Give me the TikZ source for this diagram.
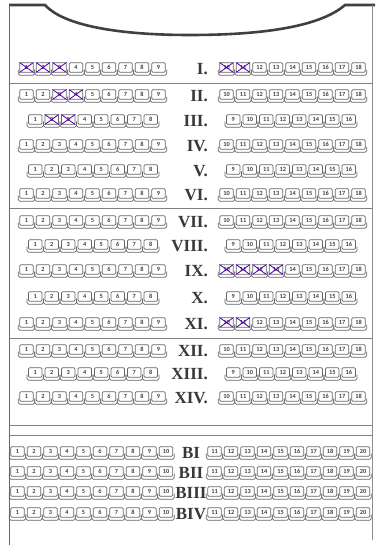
\documentclass[tikz,border=0pt]{standalone}
\usepackage{fontspec}
\setmainfont{Liberation Serif}
\newfontfamily\seatfont{Carlito}

\begin{document}
\begin{tikzpicture}[
    x=1pt, y=1pt,
    seat/.style={
        rectangle,
        rounded corners=1.2pt,
        draw=black!60,
        line width=0.7pt,
        minimum width=13.5pt,
        minimum height=9.5pt,
        inner sep=0pt,
        fill=white,
        text=black!75,
        font=\seatfont\bfseries\fontsize{6.3}{7}\selectfont
    },
    cushion/.style={
        draw=black!60,
        line width=0.7pt,
        rounded corners=1.5pt
    },
    rowlabel/.style={
        inner sep=0pt,
        text=black!78,
        font=\bfseries\fontsize{17}{17}\selectfont
    },
    taken/.style={draw=violet!65!blue, line width=0.8pt},
    stage/.style={draw=black!75, line width=2.6pt},
    frame/.style={draw=black!60, line width=0.8pt}
]
\useasboundingbox (0,0) rectangle (375,-545);

% Stage and outer frame
\draw[stage] (9,-5) -- (45,-5)
    .. controls (62,-24) and (112,-35) .. (190,-35)
    .. controls (270,-35) and (322,-25) .. (345,-5) -- (375,-5);
\draw[frame] (9,-5) -- (9,-545);
\draw[frame, draw=black!45] (372,-5) -- (372,-540);

% Block separators
\foreach \ysep in {83,208,338,425,435}
    \draw[frame, draw=black!50] (9,-\ysep) -- (372,-\ysep);

% Rows of seats
\foreach \row/\ypos/\lbl/\nl/\xl/\xr/\la/\lx in {
    1/69/I./9/26.5/226.5/east/208,
    2/96/II./9/26.5/226.5/east/208,
    3/121/III./8/35.25/233.25/east/208,
    4/146/IV./9/26.5/226.5/east/208,
    5/171/V./8/35.25/233.25/east/208,
    6/195/VI./9/26.5/226.5/east/208,
    7/222/VII./9/26.5/226.5/east/208,
    8/246/VIII./8/35.25/233.25/east/208,
    9/271/IX./9/26.5/226.5/east/208,
    10/298/X./8/35.25/233.25/east/208,
    11/324/XI./9/26.5/226.5/east/208,
    12/351/XII./9/26.5/226.5/east/208,
    13/374/XIII./8/35.25/233.25/east/208,
    14/398/XIV./9/26.5/226.5/east/208,
    15/453/BI/10/17.5/214.5/center/191,
    16/473/BII/10/17.5/214.5/center/191,
    17/493/BIII/10/17.5/214.5/center/191,
    18/514/BIV/10/17.5/214.5/center/191}
{
    \node[rowlabel, anchor=\la] (lab\row) at (\lx,-\ypos) {\lbl};
    \foreach \s in {1,...,\nl} {
        \pgfmathtruncatemacro{\num}{\s+\nl}
        \node[seat] (r\row c\s) at ({\xl+(\s-1)*16.5},{1.5-\ypos}) {\s};
        \node[seat] (r\row c\num) at ({\xr+(\s-1)*16.5},{1.5-\ypos}) {\num};
        \foreach \c in {\s,\num}
            \draw[cushion] ([shift={(-1.1,3)}]r\row c\c.south west) -- ++(0,-5.6)
                -- ([shift={(1.1,-2.6)}]r\row c\c.south east) -- ++(0,5.6);
    }
}

% Crossed-out seats
\foreach \seat in {r1c1,r1c2,r1c3,r1c10,r1c11,r2c3,r2c4,r3c2,r3c3,
                   r9c10,r9c11,r9c12,r9c13,r11c10,r11c11}
    \draw[taken] (\seat.north west) -- (\seat.south east)
                 (\seat.north east) -- (\seat.south west);

\end{tikzpicture}
\end{document}
